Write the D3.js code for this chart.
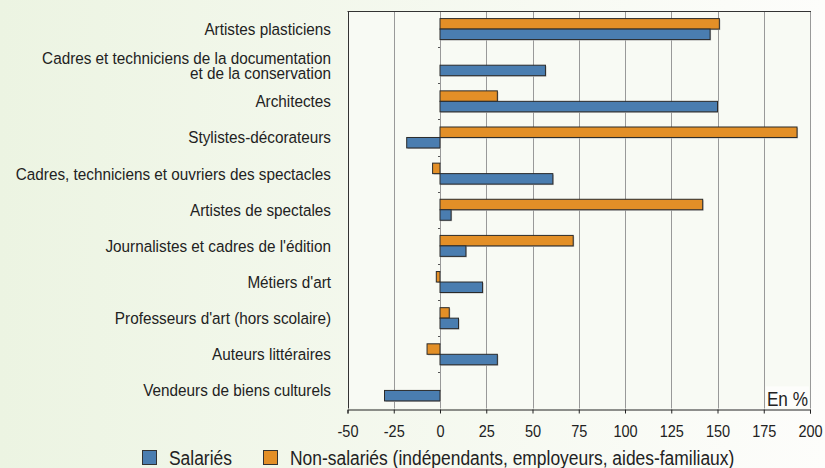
<!DOCTYPE html>
<meta charset="utf-8">
<head>
  <title>Evolution des emplois culturels</title>
  <script src="https://cdn.jsdelivr.net/npm/d3@7"></script>
  <style>
    body { margin: 0; }
    svg { display: block; font-family: 'Liberation Sans', Arial, sans-serif; }
    .lbl { font-size: 17px; fill: #222; }
    .tick text { font-size: 16.5px; fill: #222; }
    .leg { font-size: 21px; fill: #222; }
  </style>
</head>
<body>
<svg width="825" height="468"></svg>
<script>

var categories = [
  ["Artistes plasticiens"],
  ["Cadres et techniciens de la documentation", "et de la conservation"],
  ["Architectes"],
  ["Stylistes-décorateurs"],
  ["Cadres, techniciens et ouvriers des spectacles"],
  ["Artistes de spectales"],
  ["Journalistes et cadres de l'édition"],
  ["Métiers d'art"],
  ["Professeurs d'art (hors scolaire)"],
  ["Auteurs littéraires"],
  ["Vendeurs de biens culturels"]
];
var salaries    = [146, 57, 150, -18, 61, 6, 14, 23, 10, 31, -30];
var nonSalaries = [151, 0, 31, 193, -4, 142, 72, -2, 5, -7, 0];
var xTicks = [-50, -25, 0, 25, 50, 75, 100, 125, 150, 175, 200];

var blue = "#4a7db0", orange = "#e38f27";

// the original type is narrow, so texts get squeezed sideways
var narrow = 0.88;

var svg = d3.select("svg"),
    width = +svg.attr("width"),
    height = +svg.attr("height");

// background gradient, green on the left
var defs = svg.append("defs");
var grad = defs.append("linearGradient").attr("id", "bg");
grad.append("stop").attr("offset", "0%").attr("stop-color", "#ecf4e2");
grad.append("stop").attr("offset", "100%").attr("stop-color", "#fdfdfb");
svg.append("rect").attr("width", width).attr("height", height).attr("fill", "url(#bg)");

var plotL = 347.5, plotR = 810, plotT = 11, plotB = 408.5;

var x = d3.scaleLinear().domain([-50, 200]).range([plotL, plotR]);
var y = d3.scaleBand().domain(d3.range(categories.length))
    .range([plotT, plotB]).paddingInner(0.42).paddingOuter(0.21);
var ySeries = d3.scaleBand().domain(["non", "sal"]).range([0, y.bandwidth()]);

// plot area
svg.append("rect")
    .attr("x", plotL).attr("y", plotT)
    .attr("width", plotR - plotL).attr("height", plotB - plotT)
    .attr("fill", "#f8faf4");

// vertical gridlines
svg.append("g").selectAll("line")
  .data(xTicks)
  .enter().append("line")
    .attr("x1", function(d) { return Math.round(x(d)) + 0.5; })
    .attr("x2", function(d) { return Math.round(x(d)) + 0.5; })
    .attr("y1", plotT).attr("y2", plotB)
    .attr("stroke", function(d) { return d == -50 ? "#333" : "#999"; })
    .attr("stroke-width", 1);

// "En %" label with its own background
svg.append("rect").attr("x", x(175) + 2).attr("y", plotB - 22)
    .attr("width", x(200) - x(175) - 3).attr("height", 21).attr("fill", "#fdfdfb");
svg.append("text")
    .attr("transform", "translate(" + (x(200) - 2) + "," + (plotB - 3) + ") scale(0.86,1)")
    .attr("text-anchor", "end").style("font-size", "20px").attr("fill", "#222")
    .text("En %");

// small ticks between categories on the zero line
var bounds = d3.range(1, categories.length).map(function(i) { return y(i) - y.step() * y.paddingInner() / 2; });
svg.append("g").selectAll("line")
  .data(bounds)
  .enter().append("line")
    .attr("x1", Math.round(x(0)) - 2).attr("x2", Math.round(x(0)))
    .attr("y1", function(d) { return Math.round(d) + 0.5; })
    .attr("y2", function(d) { return Math.round(d) + 0.5; })
    .attr("stroke", "#555");

// bars
var rows = categories.map(function(c, i) {
  return [{ key: "non", i: i, v: nonSalaries[i] }, { key: "sal", i: i, v: salaries[i] }];
});
var bar = svg.append("g").selectAll("g")
  .data(rows)
  .enter().append("g")
    .attr("transform", function(d, i) { return "translate(0," + y(i) + ")"; })
  .selectAll("rect")
  .data(function(d) { return d.filter(function(b) { return b.v != 0; }); })
  .enter();

// soft shadow under each bar
bar.append("rect")
    .attr("x", function(d) { return x(Math.min(0, d.v)) + 1; })
    .attr("y", function(d) { return ySeries(d.key) + 1; })
    .attr("width", function(d) { return Math.abs(x(d.v) - x(0)); })
    .attr("height", ySeries.bandwidth())
    .attr("fill", "#bbb");

bar.append("rect")
    .attr("x", function(d) { return x(Math.min(0, d.v)); })
    .attr("y", function(d) { return ySeries(d.key); })
    .attr("width", function(d) { return Math.abs(x(d.v) - x(0)); })
    .attr("height", ySeries.bandwidth())
    .attr("fill", function(d) { return d.key == "sal" ? blue : orange; })
    .attr("stroke", "#2a2a2a")
    .attr("stroke-width", 1);

// top border
svg.append("line").attr("x1", plotL).attr("x2", plotR + 1)
    .attr("y1", plotT + 0.5).attr("y2", plotT + 0.5).attr("stroke", "#333");

// x axis
var xAxis = svg.append("g")
    .attr("transform", "translate(0," + (Math.round(plotB) + 0.5) + ")")
    .call(d3.axisBottom(x).tickValues(xTicks).tickSize(4).tickPadding(12)
      .tickFormat(function(d) { return String(d); }));
xAxis.select(".domain").attr("stroke", "#222");
xAxis.selectAll(".tick line").attr("stroke", "#222");
xAxis.selectAll(".tick text").attr("transform", "scale(" + narrow + ",1)");

// category labels
var lbl = svg.append("g").selectAll("text")
  .data(categories)
  .enter().append("text")
    .attr("class", "lbl")
    .attr("text-anchor", "end")
    .attr("transform", function(d, i) {
      return "translate(331," + (y(i) + y.bandwidth() / 2 - (d.length - 1) * 7.5) + ") scale(0.9,1)";
    });
lbl.selectAll("tspan")
  .data(function(d) { return d; })
  .enter().append("tspan")
    .attr("x", 0)
    .attr("dy", function(d, j) { return j == 0 ? "0.35em" : 15; })
    .text(function(d) { return d; });

// legend
var legend = [
  { name: "Salariés", color: blue, x: 142 },
  { name: "Non-salariés (indépendants, employeurs, aides-familiaux)", color: orange, x: 263 }
];
var lg = svg.append("g").selectAll("g")
  .data(legend)
  .enter().append("g")
    .attr("transform", function(d) { return "translate(" + d.x + ",450)"; });
lg.append("rect").attr("x", 0.5).attr("y", 0.5).attr("width", 14).attr("height", 14)
    .attr("fill", function(d) { return d.color; })
    .attr("stroke", "#333");
lg.append("text").attr("class", "leg")
    .attr("transform", "translate(27,15) scale(0.83,1)")
    .text(function(d) { return d.name; });

</script>
</body>
